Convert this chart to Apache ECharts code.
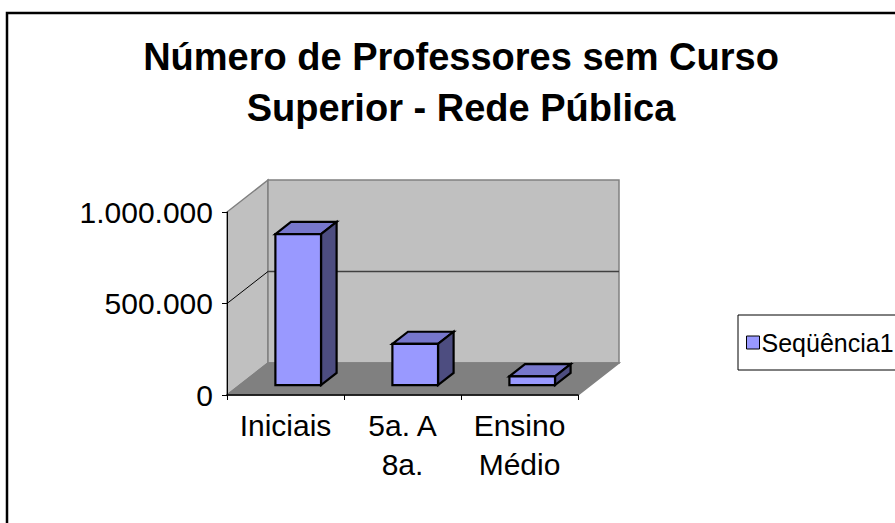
<!DOCTYPE html>
<html>
<head>
<meta charset="utf-8">
<script src="https://cdn.jsdelivr.net/npm/echarts@6/dist/echarts.min.js"></script>
<style>html,body{margin:0;padding:0;background:#fff}#c{width:895px;height:523px}</style>
</head>
<body>
<div id="c"></div>
<script>
const categories = ['Iniciais', '5a. A\n8a.', 'Ensino\nMédio'];
const values = [825000, 225000, 48000];
const seriesName = 'Seqüência1';
const yTicks = [0, 500000, 1000000];
const titleText = 'Número de Professores sem Curso\nSuperior - Rede Pública';

const FONT = 'Liberation Sans, Arial, sans-serif';
const DEPTH = [41, -32];
const F0 = 0.31, F1 = 0.69, BARW = 0.39;

function fmt(v) { return String(v).replace(/\B(?=(\d{3})+(?!\d))/g, '.'); }

const chart = echarts.init(document.getElementById('c'), null, { renderer: 'svg' });

function frameItem(params, api) {
  const cs = params.coordSys;
  const x0 = cs.x, x1 = cs.x + cs.width, yt = cs.y, yb = cs.y + cs.height;
  const dx = DEPTH[0], dy = DEPTH[1];
  const ch = [];
  ch.push({ type: 'polygon', shape: { points: [[x0, yb], [x0 + dx, yb + dy], [x0 + dx, yt + dy], [x0, yt]] },
    style: { fill: '#c0c0c0', stroke: '#808080', lineWidth: 1.5 } });
  ch.push({ type: 'polygon', shape: { points: [[x0 + dx, yt + dy], [x1 + dx, yt + dy], [x1 + dx, yb + dy], [x0 + dx, yb + dy]] },
    style: { fill: '#c0c0c0', stroke: '#808080', lineWidth: 1.5 } });
  ch.push({ type: 'polygon', shape: { points: [[x0, yb], [x1, yb], [x1 + dx, yb + dy], [x0 + dx, yb + dy]] },
    style: { fill: '#808080', stroke: '#808080', lineWidth: 1.5 } });
  const lo = yTicks[0], hi = yTicks[yTicks.length - 1];
  yTicks.forEach(t => {
    if (t === lo || t === hi) return;
    const y = api.coord([0, t])[1];
    ch.push({ type: 'line', shape: { x1: x0, y1: y, x2: x0 + dx, y2: y + dy }, style: { stroke: '#000', lineWidth: 1 } });
    ch.push({ type: 'line', shape: { x1: x0 + dx, y1: y + dy, x2: x1 + dx, y2: y + dy }, style: { stroke: '#404040', lineWidth: 1.5 } });
  });
  return { type: 'group', children: ch };
}

function barItem(params, api) {
  const i = api.value(0), v = api.value(1);
  const base = api.coord([i, 0]);
  const top = api.coord([i, v]);
  const w = api.size([1, 0])[0] * BARW;
  const xl = base[0] - w / 2, xr = base[0] + w / 2;
  const yT = top[1], yB = base[1];
  const ax = DEPTH[0] * F0, ay = DEPTH[1] * F0;
  const bx = DEPTH[0] * F1, by = DEPTH[1] * F1;
  const st = { stroke: '#000', lineWidth: 2.2, lineJoin: 'miter' };
  return { type: 'group', children: [
    { type: 'polygon', shape: { points: [[xl + ax, yT + ay], [xr + ax, yT + ay], [xr + bx, yT + by], [xl + bx, yT + by]] },
      style: Object.assign({ fill: '#7777cc' }, st) },
    { type: 'polygon', shape: { points: [[xr + ax, yT + ay], [xr + bx, yT + by], [xr + bx, yB + by], [xr + ax, yB + ay]] },
      style: Object.assign({ fill: '#4d4d80' }, st) },
    { type: 'rect', shape: { x: xl + ax, y: yT + ay, width: w, height: yB - yT },
      style: Object.assign({ fill: '#9999ff' }, st) }
  ] };
}

chart.setOption({
  backgroundColor: '#ffffff',
  animation: false,
  title: {
    text: titleText, left: 456, top: 26, textAlign: 'center',
    textStyle: { fontFamily: FONT, fontSize: 38, fontWeight: 'bold', color: '#000', lineHeight: 51 }
  },
  legend: {
    data: [{ name: seriesName, icon: 'rect', itemStyle: { color: '#9999ff', borderColor: '#000', borderWidth: 1 } }],
    left: 738, top: 315, orient: 'vertical',
    borderColor: '#000', borderWidth: 1, padding: [15, 40, 15, 8],
    itemWidth: 13, itemHeight: 13, itemGap: 0,
    textStyle: { fontFamily: FONT, fontSize: 25, color: '#000', padding: [0, 0, 0, -3] }
  },
  grid: { left: 227, top: 212, width: 351, height: 183 },
  xAxis: {
    type: 'category', data: categories, z: 10,
    axisLine: { lineStyle: { color: '#000', width: 1.5 } },
    axisTick: { show: true, length: 5, lineStyle: { color: '#000' } },
    axisLabel: { fontFamily: FONT, fontSize: 30, color: '#000', lineHeight: 39, margin: 11, interval: 0 },
    splitLine: { show: false }
  },
  yAxis: {
    type: 'value', min: yTicks[0], max: yTicks[yTicks.length - 1], interval: yTicks[1] - yTicks[0], z: 10,
    axisLine: { show: true, lineStyle: { color: '#000', width: 1 } },
    axisTick: { show: true, length: 5, lineStyle: { color: '#000' } },
    axisLabel: { fontFamily: FONT, fontSize: 30, color: '#000', margin: 14, formatter: fmt },
    splitLine: { show: false }
  },
  graphic: [{
    type: 'rect', shape: { x: 7, y: 13, width: 1000, height: 1000 },
    style: { fill: 'none', stroke: '#000', lineWidth: 2.5 }, z: 100
  }],
  series: [
    { type: 'custom', name: '_frame', renderItem: frameItem, data: [[0, 0]], z: 1, silent: true },
    { type: 'custom', name: seriesName, renderItem: barItem, itemStyle: { color: '#9999ff' },
      encode: { x: 0, y: 1 }, data: categories.map((c, i) => [i, values[i]]), z: 2 }
  ]
});
</script>
</body>
</html>
